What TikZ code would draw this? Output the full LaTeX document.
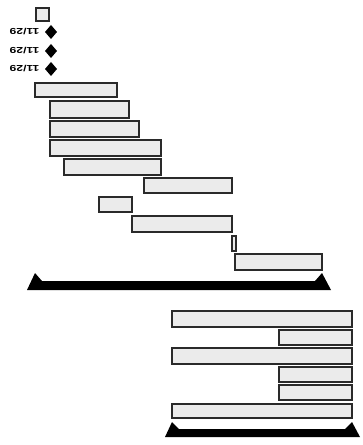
\documentclass[tikz,border=0pt]{standalone}
\usepackage{tikz}
\usetikzlibrary{arrows.meta,positioning,calc,patterns}
\usepackage{xcolor}
\usepackage{fontspec}
\newfontfamily\datefont{Liberation Sans}
\definecolor{barfill}{HTML}{EBEBEB}
\definecolor{barline}{HTML}{2A2A2A}
\definecolor{milestone}{HTML}{000000}

\begin{document}
\begin{tikzpicture}[x=0.75pt,y=-0.75pt,
  taskbar/.style={draw=barline,line width=1.1pt,fill=barfill},
  sumbar/.style={fill=milestone,draw=none},
  datelabel/.style={font=\datefont\bfseries\fontsize{6.5}{8}\selectfont,
    rotate=180,xscale=1.4,inner sep=0pt}]
  \useasboundingbox (0,0) rectangle (362,445);

  % Top task
  \draw[taskbar] (36,8) rectangle (49,21);

  % Milestones
  \foreach \y/\nm in {32/ma,51/mb,69/mc}{
    \fill[milestone] (51,\y-7) -- (57,\y) -- (51,\y+7) -- (45,\y) -- cycle;
    \node[datelabel] (\nm) at (24.5,\y) {11/29};
  }

  % Upper tasks
  \draw[taskbar] (35,83) rectangle (117,97);
  \draw[taskbar] (50,101) rectangle (129,118);
  \draw[taskbar] (50,121) rectangle (139,137);
  \draw[taskbar] (50,140) rectangle (161,156);
  \draw[taskbar] (64,159) rectangle (161,175);
  \draw[taskbar] (144,178) rectangle (232,193);
  \draw[taskbar] (99,197) rectangle (132,212);
  \draw[taskbar] (132,216) rectangle (232,232);
  \draw[taskbar] (232,236) rectangle (236,251);
  \draw[taskbar] (235,254) rectangle (322,270);

  % Upper summary
  \fill[sumbar] (27,290) -- (35,273) -- (42,281) -- (315,281) -- (322,273)
    -- (331,290) -- cycle;

  % Lower tasks
  \draw[taskbar] (172,311) rectangle (352,327);
  \draw[taskbar] (279,330) rectangle (352,345);
  \draw[taskbar] (172,348) rectangle (352,364);
  \draw[taskbar] (279,367) rectangle (352,382);
  \draw[taskbar] (279,385) rectangle (352,400);
  \draw[taskbar] (172,404) rectangle (352,418);

  % Lower summary
  \fill[sumbar] (165,437) -- (172,422) -- (179,429) -- (345,429) -- (352,422)
    -- (360,437) -- cycle;
\end{tikzpicture}
\end{document}
